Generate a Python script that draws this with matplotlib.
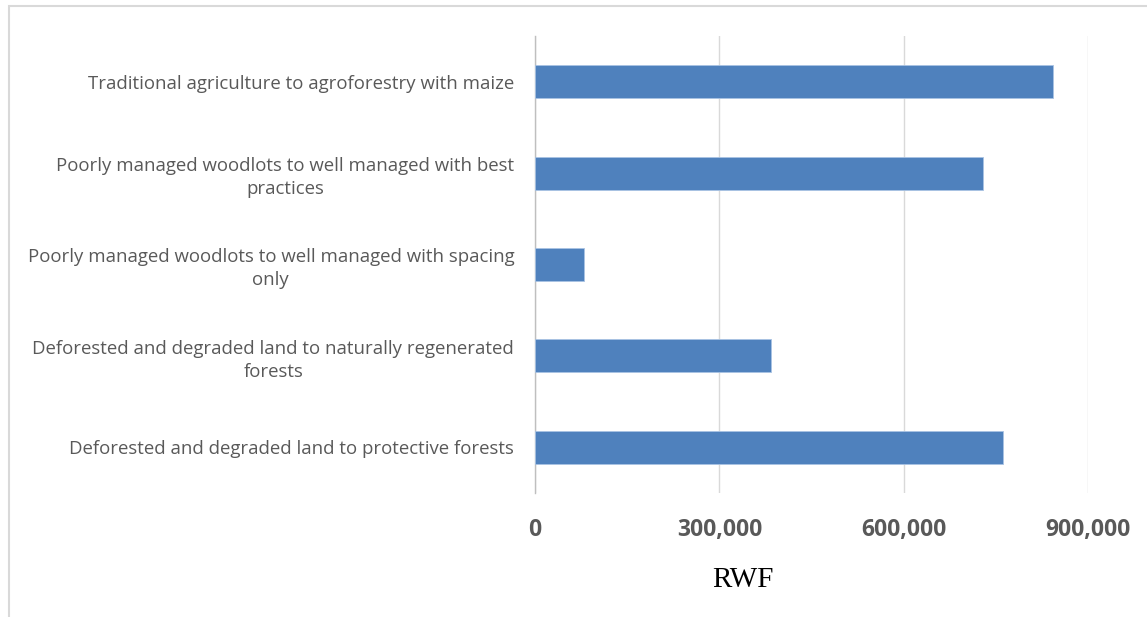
import matplotlib.pyplot as plt
from matplotlib.patches import Rectangle
from matplotlib.ticker import FuncFormatter

categories = [
    "Deforested and degraded land to protective forests",
    "Deforested and degraded land to naturally regenerated\nforests",
    "Poorly managed woodlots to well managed with spacing\nonly",
    "Poorly managed woodlots to well managed with best\npractices",
    "Traditional agriculture to agroforestry with maize",
]
values = [762000, 384000, 79000, 729000, 843000]
x_ticks = [0, 300000, 600000, 900000]
x_label = "RWF"

fig = plt.figure(figsize=(11.47, 6.17), dpi=100)

# light grey frame around the chart area (runs off the right/bottom edges)
fig.patches.append(Rectangle((9 / 1147, -0.05), 1.2, 1 - 6 / 617 + 0.05,
                             transform=fig.transFigure, fill=False,
                             edgecolor="#d9d9d9", linewidth=1.5))

ax = fig.add_axes([535 / 1147, 1 - 493 / 617, (1088 - 535) / 1147, (493 - 36) / 617])

pos = range(len(categories))
ax.barh(pos, values, height=0.36, color="#4f81bd", edgecolor="#a9c3e3", linewidth=0.6, zorder=3)

ax.set_xlim(0, 900000)
ax.set_ylim(-0.5, len(categories) - 0.5)
ax.set_xticks(x_ticks)
ax.xaxis.set_major_formatter(FuncFormatter(lambda v, p: f"{int(v):,}"))
ax.grid(axis="x", color="#d9d9d9", linewidth=1, zorder=0)
ax.set_axisbelow(True)

for s in ["top", "right", "bottom"]:
    ax.spines[s].set_visible(False)
ax.spines["left"].set_color("#bfbfbf")
ax.spines["left"].set_linewidth(1)

ax.set_yticks(list(pos))
ax.set_yticklabels(categories, fontfamily="Open Sans", fontsize=13.4,
                   color="#595959", ha="right", multialignment="center",
                   linespacing=1.34)
ax.tick_params(axis="y", length=0, pad=15)
ax.tick_params(axis="x", length=0, pad=18, labelsize=16.5, labelcolor="#595959")
for lbl in ax.get_xticklabels():
    lbl.set_fontfamily("Open Sans")
    lbl.set_fontweight("bold")

fig.text(743 / 1147, 1 - 580 / 617, x_label, fontfamily="Liberation Serif",
         fontsize=21, color="black", ha="center", va="center")

fig.savefig("out.png", dpi=100)
